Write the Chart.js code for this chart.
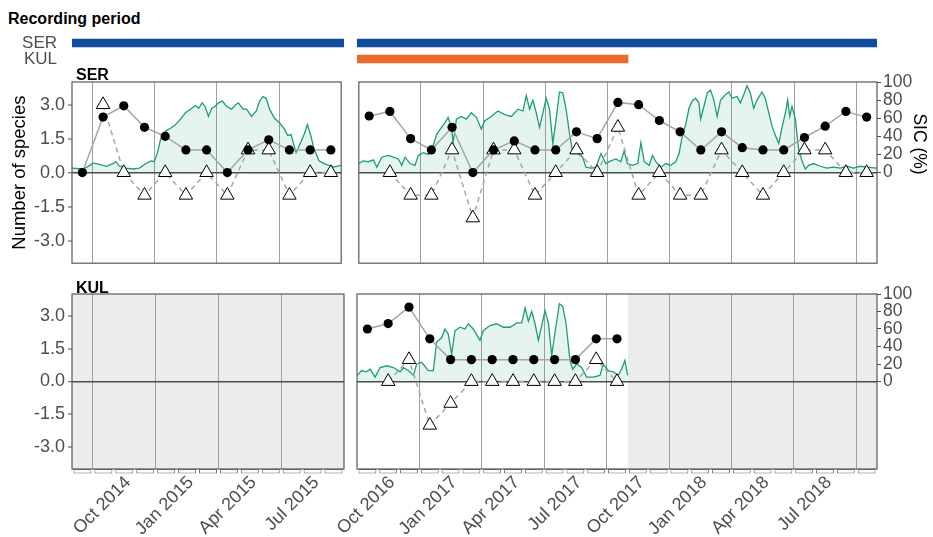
<!DOCTYPE html>
<html><head><meta charset="utf-8">
<script src="https://cdn.jsdelivr.net/npm/chart.js@4.4.1/dist/chart.umd.min.js"></script>
<style>
body{margin:0;background:#fff;width:933px;height:537px;overflow:hidden;position:relative;font-family:'Liberation Sans',Arial,Helvetica,sans-serif;}
canvas{position:absolute;}
.lbl{position:absolute;font-weight:bold;font-size:16px;line-height:20px;color:#000;white-space:nowrap;}
#sic{position:absolute;left:880px;top:134px;width:80px;height:20px;line-height:20px;text-align:center;font-size:17.5px;color:#000;transform:rotate(90deg);white-space:nowrap;}
</style></head><body>
<div class="lbl" style="left:8px;top:9px">Recording period</div>
<canvas id="recL" width="350" height="40" style="left:0;top:30px"></canvas>
<canvas id="recR" width="560" height="40" style="left:350px;top:30px"></canvas>
<canvas id="serL" width="350" height="202" style="left:0;top:70px"></canvas>
<canvas id="serR" width="583" height="202" style="left:350px;top:70px"></canvas>
<canvas id="kulL" width="350" height="254" style="left:0;top:283px"></canvas>
<canvas id="kulR" width="643" height="254" style="left:290px;top:283px"></canvas>
<div class="lbl" style="left:76px;top:65px">SER</div>
<div class="lbl" style="left:76px;top:278px">KUL</div>
<div id="sic">SIC (%)</div>
<script>
// ---------------- data ----------------
const stations = ['SER', 'KUL'];
const leftMonths = ['Sep 2014','Oct 2014','Nov 2014','Dec 2014','Jan 2015','Feb 2015','Mar 2015','Apr 2015','May 2015','Jun 2015','Jul 2015','Aug 2015','Sep 2015'];
const rightMonths = ['Oct 2016','Nov 2016','Dec 2016','Jan 2017','Feb 2017','Mar 2017','Apr 2017','May 2017','Jun 2017','Jul 2017','Aug 2017','Sep 2017','Oct 2017','Nov 2017','Dec 2017','Jan 2018','Feb 2018','Mar 2018','Apr 2018','May 2018','Jun 2018','Jul 2018','Aug 2018','Sep 2018','Oct 2018'];

// recording periods (month index units)
const serRecLeft = [-0.5, 12.5];
const kulRecLeft = null;
const serRecRight = [-0.5, 24.5];
const kulRecRight = [-0.5, 12.53];

// species series (circles / triangles), per month
const serLeftCircle = [0, 2.45, 2.95, 2.0, 1.6, 1.0, 1.0, 0, 1.0, 1.45, 1.0, 1.0, 1.0];
const serLeftTri    = [null, 3, 0, -1, 0, -1, 0, -1, 1, 1, -1, 0, 0];
const serRightCircle = [2.5, 2.7, 1.5, 1.0, 2.0, 0, 1.0, 1.4, 1.0, 1.0, 1.8, 1.5, 3.1, 3.0, 2.3, 1.8, 1.0, 1.8, 1.1, 1.0, 1.0, 1.55, 2.05, 2.7, 2.45];
const serRightTri    = [null, 0, -1, -1, 1, -2, 1, 1, -1, 0, 1, 0, 2, -1, 0, -1, -1, 1, 0, -1, 0, 1, 1, 0, 0];
const kulRightCircle = [2.4, 2.65, 3.4, 1.95, 1.0, 1.0, 1.0, 1.0, 1.0, 1.0, 1.0, 1.95, 1.95];
const kulRightTri    = [null, 0, 1, -2, -1, 0, 0, 0, 0, 0, 0, 1, 0];

// sea ice concentration (%), x in month index
const sicSerLeftX = [-0.5,0.04,0.36,0.52,0.84,1.16,1.47,1.63,1.79,2.11,2.43,2.75,3.07,3.31,3.47,3.63,3.78,4.02,4.26,4.50,4.74,4.98,5.22,5.46,5.62,5.78,5.93,6.09,6.25,6.41,6.57,6.76,6.97,7.21,7.40,7.53,7.77,7.93,8.17,8.40,8.56,8.72,8.88,9.04,9.28,9.52,9.76,9.92,10.08,10.16,10.32,10.48,10.71,10.87,11.03,11.19,11.43,11.67,11.91,12.15,12.47];
const sicSerLeftY = [5,4,8,10.5,9,7,10,12,7,5,4,5,10,13,12,22,37,46,49,53,59,66,70,74,71,77,73,62,71,73,77,79,73,70,75,77,70,70,62,68,79,84,82,70,60,55,48,41,42,35,22,30,42,53,41,26,13,10,8,6,8];
const sicSerRightX = [-0.5,-0.28,-0.04,0.21,0.37,0.61,0.93,1.17,1.41,1.57,1.73,1.97,2.21,2.37,2.61,2.85,3.01,3.25,3.49,3.65,3.81,3.97,4.05,4.21,4.45,4.69,4.93,5.17,5.41,5.57,5.89,6.21,6.54,6.86,7.18,7.42,7.58,7.74,7.90,8.06,8.22,8.38,8.54,8.70,8.86,9.02,9.18,9.34,9.50,9.66,9.82,10.06,10.30,10.46,10.70,10.94,11.18,11.42,11.66,11.90,12.14,12.30,12.46,12.70,12.95,13.11,13.27,13.51,13.67,13.83,14.07,14.31,14.55,14.79,14.95,15.11,15.27,15.43,15.59,15.75,15.91,15.99,16.15,16.31,16.47,16.63,16.79,16.95,17.19,17.35,17.51,17.75,17.91,18.07,18.23,18.39,18.55,18.71,18.95,19.11,19.28,19.44,19.60,19.76,19.92,20.08,20.19,20.29,20.40,20.56,20.72,20.88,21.04,21.20,21.44,21.76,22.08,22.40,22.72,23.04,23.36,23.68,24.00,24.48];
const sicSerRightY = [10,13,12,14,6,17,19,17,15,8,17,10,8,19,22,20,24,42,50,55,61,50,33,59,62,59,66,61,48,57,62,68,64,62,70,68,85,70,80,66,50,66,82,70,32,59,89,88,70,44,22,21,17,6,5,6,21,10,13,15,12,24,10,8,10,33,12,8,19,12,6,10,8,12,21,41,53,71,79,82,77,59,73,88,91,80,62,80,86,89,82,84,77,86,96,88,71,80,89,82,66,51,41,32,50,66,80,62,73,59,26,13,4,8,10,7,5,6,5,7,5,7,6,5];
const sicKulRightX = [-0.48,-0.28,-0.04,0.13,0.37,0.61,0.93,1.25,1.57,1.73,1.97,2.21,2.37,2.61,2.93,3.17,3.33,3.57,3.73,3.89,4.05,4.21,4.45,4.69,4.85,5.09,5.41,5.57,5.89,6.21,6.54,6.86,7.18,7.42,7.58,7.74,7.90,8.06,8.22,8.38,8.54,8.70,8.86,9.02,9.23,9.39,9.55,9.74,9.87,10.06,10.30,10.54,10.86,11.18,11.34,11.58,11.82,12.06,12.22,12.38,12.51];
const sicKulRightY = [7,12.5,11,14,5,16,18,16,11,16,12.5,7,20,22,12.5,12.5,45,50,60,54,31,58,62,60,66,60,47,58,64,66,62,62,67,67,84,69,80,66,47,64,81,67,30,56,89,86,66,24,14,20,16,5,5,7,20,12.5,11,7,14,24,7];

// axes ticks
const speciesTicks = [-3, -1.5, 0, 1.5, 3];
const sicTicks = [0, 20, 40, 60, 80, 100];
const leftGridAt = [0.5, 3.5, 6.5, 9.5];
const leftTickAt = [0.5, 3.5, 6.5, 9.5];
const leftTickLabels = ['Oct 2014', 'Jan 2015', 'Apr 2015', 'Jul 2015'];
const rightGridAt = [2.5, 5.5, 8.5, 11.5, 14.5, 17.5, 20.5, 23.5];
const rightTickAt = [-0.5, 2.5, 5.5, 8.5, 11.5, 14.5, 17.5, 20.5];
const rightTickLabels = ['Oct 2016', 'Jan 2017', 'Apr 2017', 'Jul 2017', 'Oct 2017', 'Jan 2018', 'Apr 2018', 'Jul 2018'];

// ---------------- styling ----------------
Chart.defaults.font.family = "'Liberation Sans', Arial, Helvetica, sans-serif";
Chart.defaults.color = '#4d4d4d';
const LABEL_SHIFT = 1.68;
const SER_COL = '#0f4c9c', KUL_COL = '#ea6a2a';

const greyBg = {
  id: 'greyBg',
  beforeDraw(chart, args, opts) {
    if (opts.from === undefined || opts.from === null) return;
    const {ctx, chartArea: a, scales: {x}} = chart;
    const x0 = Math.max(a.left, x.getPixelForValue(opts.from));
    const x1 = Math.min(a.right, x.getPixelForValue(opts.to));
    ctx.save(); ctx.fillStyle = '#ebecec';
    ctx.fillRect(x0, a.top, x1 - x0, a.bottom - a.top);
    ctx.restore();
  }
};
const panelBorder = {
  id: 'panelBorder',
  afterDraw(chart) {
    const {ctx, chartArea: a} = chart;
    ctx.save(); ctx.strokeStyle = '#595959'; ctx.lineWidth = 1.2;
    ctx.strokeRect(a.left, a.top, a.right - a.left, a.bottom - a.top);
    ctx.restore();
  }
};

function recording(id, months, ranges, showLabels, pad) {
  new Chart(document.getElementById(id), {
    type: 'bar',
    data: {labels: stations, datasets: [{data: ranges, backgroundColor: [SER_COL, KUL_COL], barThickness: 8, borderWidth: 0}]},
    options: {
      indexAxis: 'y', responsive: false, animation: false,
      layout: {padding: pad},
      plugins: {legend: {display: false}, tooltip: {enabled: false}},
      scales: {
        x: {type: 'linear', min: -0.5, max: months.length - 0.5, display: false},
        y: {display: showLabels, grid: {display: false, drawTicks: false}, border: {display: false},
            ticks: {font: {size: 17}, color: '#4d4d4d', padding: 15, autoSkip: false},
            afterFit: s => { s.width = showLabels ? 72 : 0; s.paddingTop = 0; s.paddingBottom = 0; }}
      }
    }
  });
}

function panel(id, cfg) {
  const n = cfg.months.length;
  const datasets = [
    {type: 'line', label: 'circles', data: cfg.circle.map((v, i) => ({x: i, y: v})), xAxisID: 'x', yAxisID: 'y',
     borderColor: '#a6a6a6', borderWidth: 1.5, pointRadius: 4.6, pointHoverRadius: 4.6,
     pointBackgroundColor: '#000', pointBorderColor: '#000', pointBorderWidth: 0, order: 0},
    {type: 'line', label: 'triangles', data: cfg.tri.map((v, i) => ({x: i, y: v})), xAxisID: 'x', yAxisID: 'y',
     borderColor: '#a6a6a6', borderWidth: 1.5, borderDash: [5, 4], pointStyle: 'triangle', pointRadius: 7.8, pointHoverRadius: 7.8,
     pointBackgroundColor: '#fff', pointBorderColor: '#000', pointBorderWidth: 1, order: 1},
    {type: 'line', label: 'SIC', data: cfg.sicX.map((x, i) => ({x: x, y: cfg.sicY[i]})), xAxisID: 'x', yAxisID: 'y2',
     borderColor: '#1b9e77', borderWidth: 1.3, backgroundColor: 'rgba(27,158,119,0.11)', fill: {value: 0},
     pointRadius: 0, tension: 0, order: 2}
  ];
  if (cfg.boxes) {
    datasets.push({type: 'bar', label: 'months', data: cfg.months.map((m, i) => ({x: i, y: [-4.2, -4]})), xAxisID: 'x', yAxisID: 'y',
      backgroundColor: '#fff', borderColor: '#6e6e6e', borderWidth: 1, borderSkipped: false,
      barPercentage: 0.86, categoryPercentage: 1, clip: false, order: 3});
  }
  const scales = {
    x: {type: 'linear', min: -0.5, max: n - 0.5, offset: false, position: 'bottom',
        afterBuildTicks: s => { s.ticks = cfg.gridAt.map(v => ({value: v})); },
        ticks: {display: false}, grid: {color: '#a0a0a0', lineWidth: 1, drawTicks: false, offset: false}, border: {display: false},
        afterFit: s => { s.height = 0; s.paddingLeft = 0; s.paddingRight = 0; }},
    y: {min: -4, max: 4, position: 'left', display: true,
        afterBuildTicks: s => { s.ticks = speciesTicks.map(v => ({value: v})); },
        ticks: {display: cfg.leftAxis, font: {size: 18}, color: '#4d4d4d', padding: 3, callback: v => Number(v).toFixed(1)},
        grid: {color: c => (c.tick && c.tick.value === 0) ? '#4d4d4d' : 'rgba(0,0,0,0)',
               lineWidth: c => (c.tick && c.tick.value === 0) ? 1.5 : 0,
               drawTicks: cfg.leftAxis, tickLength: 4, tickColor: '#4d4d4d', tickWidth: 1},
        border: {display: false},
        title: {display: !!cfg.yTitle, text: cfg.yTitle || '', color: '#000', font: {size: 18.5}, padding: {top: 9, bottom: 0}},
        afterFit: s => { s.width = cfg.leftAxis ? 72 : 0; s.paddingTop = 0; s.paddingBottom = 0; }},
    y2: {min: -100, max: 100, position: 'right', display: cfg.rightAxis,
        afterBuildTicks: s => { s.ticks = sicTicks.map(v => ({value: v})); },
        ticks: {font: {size: 17.5}, color: '#4d4d4d', padding: 2},
        grid: {drawOnChartArea: false, tickLength: 4, tickColor: '#4d4d4d', tickWidth: 1, color: '#4d4d4d'},
        border: {display: false},
        afterFit: s => { s.width = cfg.rightAxis ? 56 : 0; s.paddingTop = 0; s.paddingBottom = 0; }}
  };
  if (cfg.tickLabels) {
    scales.xl = {type: 'linear', min: -0.5, max: n - 0.5, offset: false, position: 'bottom',
        afterBuildTicks: s => { s.ticks = cfg.tickAt.map(v => ({value: v + LABEL_SHIFT})); },
        ticks: {autoSkip: false, minRotation: 45, maxRotation: 45, font: {size: 18}, color: '#4d4d4d', padding: 3,
                callback: (v, i) => cfg.tickLabels[i]},
        grid: {display: false, drawTicks: false}, border: {display: false},
        afterFit: s => { s.height = 68; s.paddingLeft = 0; s.paddingRight = 0; }};
  }
  new Chart(document.getElementById(id), {
    type: 'line',
    data: {datasets},
    options: {
      responsive: false, animation: false,
      layout: {padding: cfg.pad},
      plugins: {legend: {display: false}, tooltip: {enabled: false}, greyBg: {from: cfg.greyFrom, to: cfg.greyTo}},
      scales
    },
    plugins: [greyBg, panelBorder]
  });
}

recording('recL', leftMonths, [serRecLeft, kulRecLeft], true, {left: 0, right: 6, top: 5, bottom: 3});
recording('recR', rightMonths, [serRecRight, kulRecRight], false, {left: 7, right: 33, top: 5, bottom: 3});

panel('serL', {months: leftMonths, circle: serLeftCircle, tri: serLeftTri, sicX: sicSerLeftX, sicY: sicSerLeftY,
  gridAt: leftGridAt, leftAxis: true, rightAxis: false, yTitle: 'Number of species',
  pad: {left: 0, right: 6, top: 12, bottom: 6}});
panel('serR', {months: rightMonths, circle: serRightCircle, tri: serRightTri, sicX: sicSerRightX, sicY: sicSerRightY,
  gridAt: rightGridAt, leftAxis: false, rightAxis: true,
  pad: {left: 7, right: 0, top: 12, bottom: 6}});
panel('kulL', {months: leftMonths, circle: [], tri: [], sicX: [], sicY: [],
  gridAt: leftGridAt, leftAxis: true, rightAxis: false, boxes: true,
  tickAt: leftTickAt, tickLabels: leftTickLabels,
  greyFrom: kulRecLeft ? kulRecLeft[1] : -0.5, greyTo: leftMonths.length - 0.5,
  pad: {left: 0, right: 6, top: 11, bottom: 0}});
panel('kulR', {months: rightMonths, circle: kulRightCircle, tri: kulRightTri, sicX: sicKulRightX, sicY: sicKulRightY,
  gridAt: rightGridAt, leftAxis: false, rightAxis: true, boxes: true,
  tickAt: rightTickAt, tickLabels: rightTickLabels,
  greyFrom: kulRecRight[1], greyTo: rightMonths.length - 0.5,
  pad: {left: 67, right: 0, top: 11, bottom: 0}});
</script>
</body></html>
